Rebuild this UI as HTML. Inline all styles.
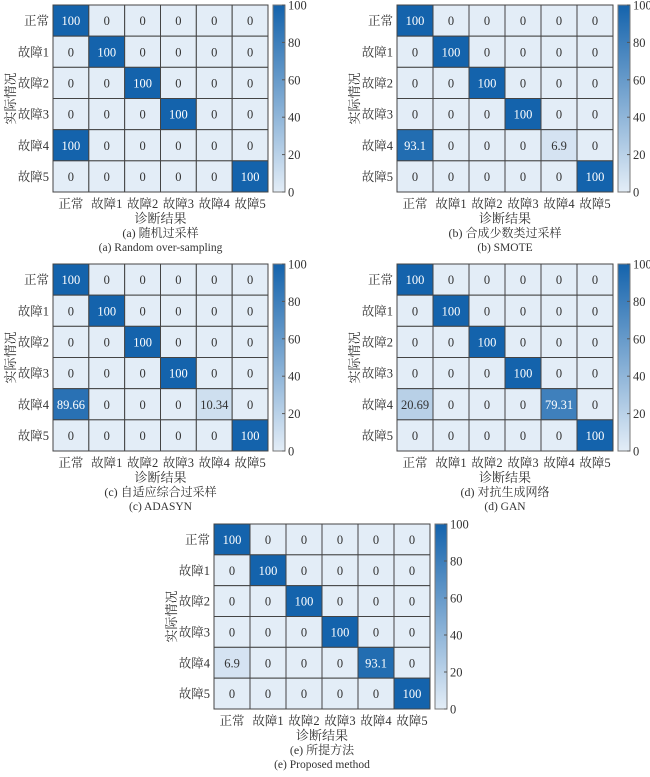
<!DOCTYPE html>
<html><head><meta charset="utf-8">
<style>
body{margin:0;background:#fff;}
svg text{font-family:"Liberation Serif","Noto Serif CJK SC","Noto Sans CJK SC",serif;fill:#333;}
</style></head>
<body>
<svg id="chart" width="650" height="772" viewBox="0 0 650 772" xmlns="http://www.w3.org/2000/svg"></svg>
<script>
const categories = ["正常","故障1","故障2","故障3","故障4","故障5"];
const cbTicks = [0,20,40,60,80,100];
const matrixA = [[100,0,0,0,0,0],[0,100,0,0,0,0],[0,0,100,0,0,0],[0,0,0,100,0,0],[100,0,0,0,0,0],[0,0,0,0,0,100]];
const matrixB = [[100,0,0,0,0,0],[0,100,0,0,0,0],[0,0,100,0,0,0],[0,0,0,100,0,0],[93.1,0,0,0,6.9,0],[0,0,0,0,0,100]];
const matrixC = [[100,0,0,0,0,0],[0,100,0,0,0,0],[0,0,100,0,0,0],[0,0,0,100,0,0],[89.66,0,0,0,10.34,0],[0,0,0,0,0,100]];
const matrixD = [[100,0,0,0,0,0],[0,100,0,0,0,0],[0,0,100,0,0,0],[0,0,0,100,0,0],[20.69,0,0,0,79.31,0],[0,0,0,0,0,100]];
const matrixE = [[100,0,0,0,0,0],[0,100,0,0,0,0],[0,0,100,0,0,0],[0,0,0,100,0,0],[6.9,0,0,0,93.1,0],[0,0,0,0,0,100]];
const captionsCN = ["(a) 随机过采样","(b) 合成少数类过采样","(c) 自适应综合过采样","(d) 对抗生成网络","(e) 所提方法"];
const captionsEN = ["(a) Random over-sampling","(b) SMOTE","(c) ADASYN","(d) GAN","(e) Proposed method"];

const NS="http://www.w3.org/2000/svg";
const svg=document.getElementById("chart");
function mk(tag,attrs,parent){const e=document.createElementNS(NS,tag);for(const k in attrs)e.setAttribute(k,attrs[k]);(parent||svg).appendChild(e);return e;}
const lo=[227,237,247], hi=[20,99,172];
function color(v){const t=v/100;return "rgb("+lo.map((c,i)=>Math.round(c+(hi[i]-c)*t)).join(",")+")";}

function panel(idx,m,gx,gy,gw,gh){
  const g=mk("g",{});
  
  
  const cw=gw/6, ch=gh/6;
  const xs=c=>gx+c*cw, ys=r=>gy+r*ch;
  for(let r=0;r<6;r++)for(let c=0;c<6;c++){
    const v=m[r][c];
    const rc=mk("rect",{x:xs(c),y:ys(r),width:cw,height:ch,fill:color(v),stroke:"#444","stroke-width":1},g);
    
    
    const t=mk("text",{x:xs(c)+cw/2,y:ys(r)+ch/2+4.5,"text-anchor":"middle","font-size":12.5},g);
    
    
    t.style.fill=v>50?"#fff":"#333";
    t.textContent=String(v);
  }
  categories.forEach((n,i)=>{
    const yl=mk("text",{x:gx-4,y:ys(i)+ch/2+4.5,"text-anchor":"end","font-size":12.5},g);
    
    
    yl.textContent=n;
    const xl=mk("text",{x:xs(i)+cw/2,y:gy+gh+16,"text-anchor":"middle","font-size":12.5},g);
    
    
    xl.textContent=n;
  });
  const yt=mk("text",{transform:"translate("+(gx-38)+","+(gy+gh/2)+") rotate(-90)","text-anchor":"middle","font-size":13},g);
  
  
  yt.textContent="实际情况";
  const xt=mk("text",{x:gx+gw/2,y:gy+gh+31,"text-anchor":"middle","font-size":13},g);
  
  
  xt.textContent="诊断结果";
  const c1=mk("text",{x:gx+gw/2,y:gy+gh+45,"text-anchor":"middle","font-size":12},g);
  
  
  c1.textContent=captionsCN[idx];
  const c2=mk("text",{x:gx+gw/2,y:gy+gh+59,"text-anchor":"middle","font-size":11.5},g);
  
  
  c2.textContent=captionsEN[idx];
  // colorbar
  const cx=gx+gw+5, cwid=12;
  const gid="grad"+idx;
  const lg=mk("linearGradient",{id:gid,x1:0,y1:1,x2:0,y2:0},g);
  mk("stop",{offset:"0",  "stop-color":color(0)},lg);
  mk("stop",{offset:"1","stop-color":color(100)},lg);
  const cb=mk("rect",{x:cx,y:gy,width:cwid,height:gh,fill:"url(#"+gid+")",stroke:"#777","stroke-width":1},g);
  
  
  const cy=v=>gy+gh-v/100*gh;
  cbTicks.forEach(v=>{
    mk("line",{x1:cx+cwid-3,x2:cx+cwid,y1:cy(v),y2:cy(v),stroke:"#555","stroke-width":1},g);
    const tl=mk("text",{x:cx+cwid+3,y:cy(v)+4.5,"font-size":12.5},g);
    
    
    tl.textContent=v;
  });
}
panel(0,matrixA,53,5,215,187);
panel(1,matrixB,397,5,216,187);
panel(2,matrixC,53,264,215,187);
panel(3,matrixD,397,264,216,187);
panel(4,matrixE,214,524,216,185);
</script>
</body></html>
